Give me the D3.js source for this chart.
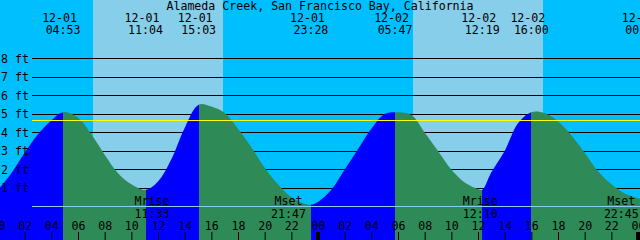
<!DOCTYPE html>
<html>
<head>
<meta charset="utf-8">
<script src="https://cdnjs.cloudflare.com/ajax/libs/d3/7.8.5/d3.min.js"></script>
<style>
body { margin: 0; overflow: hidden; background: #00bfff; }
svg { display: block; }
text { font-family: "DejaVu Sans Mono", monospace; font-size: 11.6px; fill: #000; }
</style>
</head>
<body>
<div class="tide-chart"></div>
<script>
var width = 640, height = 240;

var title = "Alameda Creek, San Francisco Bay, California";

// hours are counted from 12-01 00:00
var hourMarks = d3.range(0, 49);
var hourFeet = [0.9, 1.8, 2.9, 3.9, 4.65, 5.05, 4.8, 3.9, 2.8, 1.8,
	1.2, 0.9, 1.35, 2.55, 4.25, 5.5, 5.4, 5.05, 4.2, 3.2,
	2.1, 1.2, 0.5, 0.15, 0.25, 0.9, 2.0, 3.1, 4.2, 5.0,
	5.05, 4.95, 4.0, 3.0, 2.0, 1.3, 0.95, 1.85, 3.0, 4.5,
	5.1, 5.05, 4.6, 3.85, 2.9, 1.9, 1.2, 0.7, 0.45];

// highs and lows
var extremeHours = [4.883, 11.067, 15.05, 23.467, 29.783, 36.317, 40.0, 48.35];
var extremeFeet = [5.1, 0.9, 5.5, 0.1, 5.1, 0.9, 5.1, 0.4];
var extremeDates = ["12-01", "12-01", "12-01", "12-01", "12-02", "12-02", "12-02", "12-03"];
var extremeTimes = ["04:53", "11:04", "15:03", "23:28", "05:47", "12:19", "16:00", "00:21"];

var sunriseHours = [7.13, 31.13];
var sunsetHours = [16.85, 40.85];

var moonHours = [11.55, 21.783, 36.167, 46.75];
var moonNames = ["Mrise", "Mset", "Mrise", "Mset"];
var moonTimes = ["11:33", "21:47", "12:10", "22:45"];

var feetTicks = [1, 2, 3, 4, 5, 6, 7, 8];
var yellowFeet = 4.63;

var x = d3.scaleLinear().domain([0, 48]).range([-2, 638]);
var y = d3.scaleLinear().domain([0, 8]).range([206.5, 58.5]);

var svg = d3.select(".tide-chart").append("svg")
	.attr("width", width)
	.attr("height", height);

// night background, then daylight bands
svg.append("rect")
	.attr("width", width)
	.attr("height", height)
	.attr("fill", "#00bfff");

svg.selectAll("rect.day")
	.data(sunriseHours)
	.enter().append("rect")
	.attr("class", "day")
	.attr("x", function(d) { return x(d); })
	.attr("y", 0)
	.attr("width", function(d, i) { return x(sunsetHours[i]) - x(d); })
	.attr("height", height)
	.attr("fill", "#87ceeb")
	.attr("shape-rendering", "crispEdges");

function lineY(v) {
	return Math.floor(y(v)) + 0.5;
}

svg.selectAll("line.grid")
	.data(feetTicks)
	.enter().append("line")
	.attr("class", "grid")
	.attr("x1", 32)
	.attr("x2", width)
	.attr("y1", lineY)
	.attr("y2", lineY)
	.attr("stroke", "#000")
	.attr("stroke-width", 1);

// tide curve: hourly readings plus the highs and lows
var points = [];
hourMarks.forEach(function(h, i) {
	var near = extremeHours.some(function(e) { return Math.abs(e - h) < 0.25; });
	if (!near) points.push([h, hourFeet[i]]);
});
extremeHours.forEach(function(h, i) {
	points.push([h, extremeFeet[i]]);
});
points.sort(function(a, b) { return a[0] - b[0]; });

var area = d3.area()
	.x(function(d) { return x(d[0]); })
	.y0(height)
	.y1(function(d) { return y(d[1]); })
	.curve(d3.curveCatmullRom.alpha(0.5));

svg.append("clipPath")
	.attr("id", "tide-clip")
	.append("path")
	.attr("d", area(points));

var bounds = [0].concat(extremeHours);
var segments = [];
for (var n = 0; n < bounds.length - 1; n++) {
	segments.push({
		start: bounds[n],
		end: bounds[n + 1],
		rising: extremeFeet[n] > (n == 0 ? hourFeet[0] : extremeFeet[n - 1])
	});
}

svg.append("g")
	.attr("clip-path", "url(#tide-clip)")
	.selectAll("rect")
	.data(segments)
	.enter().append("rect")
	.attr("x", function(d) { return x(d.start); })
	.attr("y", 0)
	.attr("width", function(d) { return x(d.end) - x(d.start); })
	.attr("height", height)
	.attr("fill", function(d) { return d.rising ? "#0000ff" : "#2e8b57"; })
	.attr("shape-rendering", "crispEdges");

svg.append("line")
	.attr("x1", 32)
	.attr("x2", width)
	.attr("y1", lineY(yellowFeet))
	.attr("y2", lineY(yellowFeet))
	.attr("stroke", "#ffff00");

svg.append("line")
	.attr("x1", 32)
	.attr("x2", width)
	.attr("y1", lineY(0))
	.attr("y2", lineY(0))
	.attr("stroke", "#87ceeb");

svg.selectAll("text.feet")
	.data(feetTicks)
	.enter().append("text")
	.attr("class", "feet")
	.attr("x", 1)
	.attr("y", function(d) { return y(d) + 4; })
	.text(function(d) { return d + " ft"; });

svg.append("text")
	.attr("x", width / 2)
	.attr("y", 10)
	.attr("text-anchor", "middle")
	.text(title);

svg.selectAll("text.date")
	.data(extremeHours)
	.enter().append("text")
	.attr("class", "date")
	.attr("x", function(d) { return x(d) - 3.5; })
	.attr("y", 22)
	.attr("text-anchor", "middle")
	.text(function(d, i) { return extremeDates[i]; });

svg.selectAll("text.time")
	.data(extremeHours)
	.enter().append("text")
	.attr("class", "time")
	.attr("x", function(d) { return x(d); })
	.attr("y", 34)
	.attr("text-anchor", "middle")
	.text(function(d, i) { return extremeTimes[i]; });

svg.selectAll("text.moon")
	.data(moonHours)
	.enter().append("text")
	.attr("class", "moon")
	.attr("x", function(d) { return x(d); })
	.attr("y", 205)
	.attr("text-anchor", "middle")
	.text(function(d, i) { return moonNames[i]; });

svg.selectAll("text.moontime")
	.data(moonHours)
	.enter().append("text")
	.attr("class", "moontime")
	.attr("x", function(d) { return x(d); })
	.attr("y", 218)
	.attr("text-anchor", "middle")
	.text(function(d, i) { return moonTimes[i]; });

// hour axis along the bottom
var hourAxis = d3.axisTop(x)
	.tickValues(d3.range(0, 49, 2))
	.tickSize(8)
	.tickPadding(2.5)
	.tickFormat(function(d) { return d3.format("02d")(d % 24); });

var axisG = svg.append("g")
	.attr("transform", "translate(0," + height + ")")
	.call(hourAxis);
axisG.select(".domain").remove();
axisG.selectAll(".tick line").attr("stroke", "#000");

// midnight marks
svg.selectAll("rect.midnight")
	.data([0, 24, 48])
	.enter().append("rect")
	.attr("class", "midnight")
	.attr("x", function(d) { return x(d) - 2; })
	.attr("y", 232)
	.attr("width", 4)
	.attr("height", 8)
	.attr("fill", "#000");
</script>
</body>
</html>
